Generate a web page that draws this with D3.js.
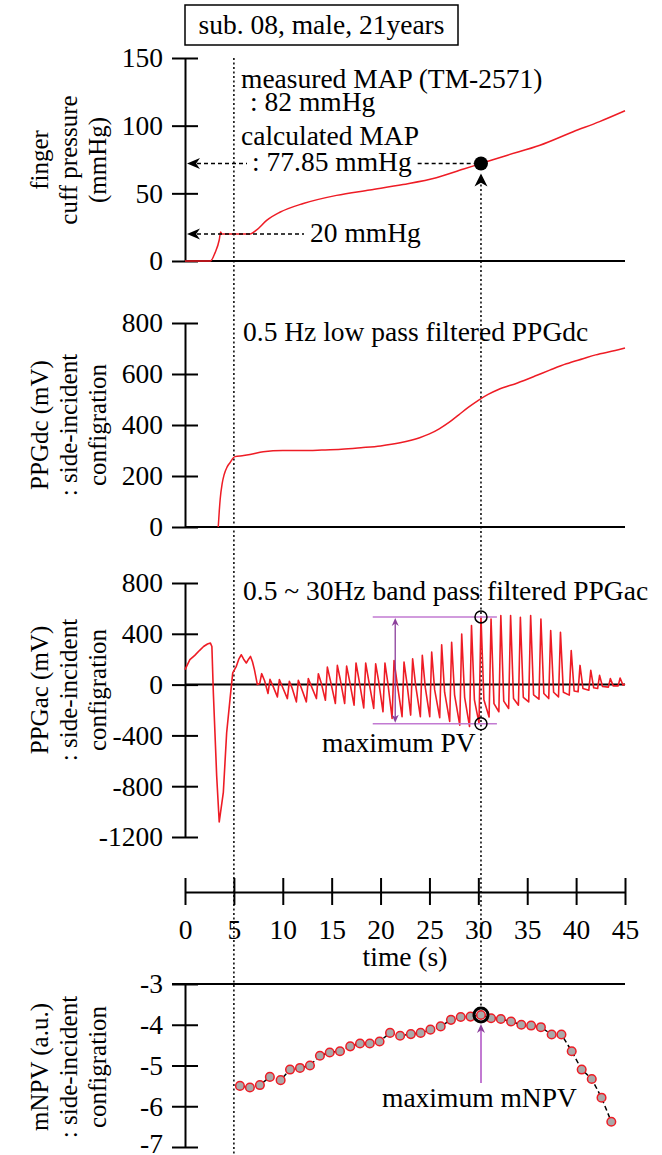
<!DOCTYPE html>
<html><head><meta charset="utf-8">
<script src="https://cdn.jsdelivr.net/npm/d3@7"></script>
<style>body{margin:0;background:#fff} svg text{font-family:"Liberation Serif","Times New Roman",serif;fill:#000}</style>
</head><body><svg id="c" width="662" height="1155"></svg>
<script>
// ---------------- data ----------------
const timeTicks = [0,5,10,15,20,25,30,35,40,45];
const cuffTicks = [0,50,100,150];
const dcTicks = [0,200,400,600,800];
const acTicks = [-1200,-800,-400,0,400,800];
const npvTicks = [-7,-6,-5,-4,-3];

const cuffCurve = [[0,0],[2.6,0],[3.07,6],[3.5,15.5],[3.65,21.5],[3.75,20],[6.65,20],[7.33,23],[8.35,30],[9.7,36],[12.1,42.5],[15.5,48.5],[18.9,52.5],[22.3,56.5],[25.7,61.5],[28.5,68],[30.27,72],[32.9,78],[36.3,85.5],[39.7,95.5],[42.4,103],[45,111]];
const dcCurve = [[3.4,0],[3.5,60],[3.6,110],[3.8,170],[4,205],[4.3,235],[4.6,252],[5.1,276],[6,280],[6.65,284],[8,295],[10,300],[12,300],[14,302],[16,305],[18,311],[20,318],[22,330],[24,350],[25,365],[26,385],[27,410],[28,440],[29,470],[30,497],[31,520],[32,538],[34,565],[36,595],[37.3,615],[39,640],[40.7,660],[42,675],[44,692],[45,702]];

const acLead = [[0,118],[0.5,196],[1,230],[1.5,270],[1.9,300],[2.3,320],[2.6,327],[2.75,300],[2.9,-66],[3.24,-719],[3.5,-1082],[3.92,-849],[4.26,-379],[4.6,-118],[4.88,92],[5.25,144],[5.5,200],[5.76,235],[6.0,200],[6.27,170],[6.5,200],[6.7,222],[6.9,180],[7.1,118],[7.4,0]];
const acPeakT = [7.84,8.69,9.65,10.67,11.59,12.61,13.64,14.56,15.58,16.53,17.49,18.48,19.5,20.45,21.38,22.4,23.28,24.27,25.23,26.25,27.27,28.3,29.3,30.27,31.3,32.3,33.3,34.3,35.35,36.4,37.4,38.4,39.5,40.4,41.5,42.4,43.5,44.5];
const acPeakV = [86,42,39,26,34,47,86,138,151,146,170,170,164,170,190,177,203,230,256,313,334,399,465,535,517,543,543,530,543,517,425,412,269,151,112,73,47,52];
const acTroughV = [8,-70,-97,-110,-136,-136,-110,-123,-149,-149,-162,-183,-188,-214,-266,-253,-240,-253,-253,-260,-290,-320,-330,-305,-255,-214,-188,-162,-136,-115,-110,-97,-83,-57,-44,-31,-20,-10];
const acAfterV = [30,-10,-15,-30,-25,-10,10,35,40,30,40,35,30,10,20,10,0,-20,-40,-60,-80,-100,-120,-120,-150,-130,-110,-100,-80,-70,-60,-60,-50,-30,-25,-15,-10,-5];
const acEnd = [[45,5]];

const npvT = [5.62,6.64,7.66,8.68,9.78,10.74,11.76,12.78,13.8,14.8,15.85,16.9,17.9,18.9,19.9,20.97,22.0,23.1,24.1,25.1,26.15,27.2,28.2,29.2,30.27,31.3,32.3,33.35,34.4,35.4,36.4,37.5,38.5,39.55,40.57,41.6,42.6,43.6];
const npvV = [-5.50,-5.54,-5.48,-5.28,-5.36,-5.10,-5.06,-5.00,-4.76,-4.68,-4.65,-4.53,-4.46,-4.46,-4.41,-4.20,-4.27,-4.23,-4.20,-4.12,-4.04,-3.88,-3.81,-3.80,-3.76,-3.84,-3.86,-3.92,-4.00,-4.02,-4.06,-4.24,-4.24,-4.65,-5.10,-5.33,-5.79,-6.38];

const tMax = 30.27;          // time of max mNPV / max PV
const mapCalc = 72;          // drawn level of calculated MAP dot
const cuff20 = 20;
const pvTop = 533, pvBot = -308;
const pvSpan = [19.2, 31.9];
const pvArrowT = 21.5;

// ---------------- setup ----------------
const FONT = '"Liberation Serif","Times New Roman",serif';
const FS = 27.5;
const RED = '#ee1c25';
const svg = d3.select('#c');
const X = d3.scaleLinear().domain([0,45]).range([185,625]);
const yCuff = d3.scaleLinear().domain([0,150]).range([261,58]);
const yDc = d3.scaleLinear().domain([0,800]).range([527,323]);
const yAc = d3.scaleLinear().domain([-1200,800]).range([837,583]);
const yNpv = d3.scaleLinear().domain([-7,-3]).range([1147,984]);

function yAxis(scale, ticks){
  const g = svg.append('g').attr('transform','translate(185,0)')
    .call(d3.axisLeft(scale).tickValues(ticks).tickFormat(d=>String(d)).tickSize(13).tickSizeOuter(0).tickPadding(9));
  g.attr('font-size',FS).attr('font-family',FONT);
  g.select('.domain').attr('stroke','#000').attr('stroke-width',2);
  g.selectAll('.tick line').attr('x1',-13).attr('x2',13).attr('stroke','#000').attr('stroke-width',2);
  g.selectAll('.tick text').attr('fill','#000');
  return g;
}
function hline(y, x1, x2, w){
  svg.append('line').attr('x1',x1).attr('x2',x2).attr('y1',y).attr('y2',y).attr('stroke','#000').attr('stroke-width',w||2);
}
function title(lines, yc){
  const xs=[39,68,97];
  lines.forEach((s,i)=>{
    svg.append('text').attr('transform',`translate(${xs[i]},${yc}) rotate(-90)`)
      .attr('text-anchor','middle').attr('dominant-baseline','central').attr('font-size',25).text(s);
  });
}
function txt(x,y,s,size,anchor){
  return svg.append('text').attr('x',x).attr('y',y).attr('font-size',size||FS).attr('text-anchor',anchor||'start').text(s);
}
function head(x,y,ang,len,hw,color){
  const p = [[0,0],[-len,-hw],[-len*0.7,0],[-len,hw]];
  svg.append('path').attr('d','M'+p.map(q=>q.join(',')).join('L')+'Z')
    .attr('transform',`translate(${x},${y}) rotate(${ang})`).attr('fill',color||'#000');
}
const lineGen = (ys,curve)=>d3.line().x(d=>X(d[0])).y(d=>ys(d[1])).curve(curve||d3.curveLinear);

// ---------------- title box ----------------
svg.append('rect').attr('x',185).attr('y',5).attr('width',273).attr('height',40).attr('fill','none').attr('stroke','#000').attr('stroke-width',1.5);
txt(321.5,34,'sub. 08, male, 21years',FS,'middle');

// ---------------- dotted vertical guides ----------------
svg.append('line').attr('x1',X(5)).attr('x2',X(5)).attr('y1',58).attr('y2',1155).attr('stroke','#000').attr('stroke-width',1.5).attr('stroke-dasharray','2,2.5');
svg.append('line').attr('x1',X(tMax)).attr('x2',X(tMax)).attr('y1',yCuff(mapCalc)+12).attr('y2',yNpv(npvV[24])-7).attr('stroke','#000').attr('stroke-width',1.5).attr('stroke-dasharray','2,2.5');

// ---------------- panel 1: cuff pressure ----------------
yAxis(yCuff,cuffTicks);
hline(yCuff(0),185,625);
title(['finger','cuff pressure','(mmHg)'],160);
svg.append('path').datum(cuffCurve).attr('d',lineGen(yCuff,d3.curveMonotoneX)).attr('fill','none').attr('stroke',RED).attr('stroke-width',1.5);

txt(241,88,'measured MAP (TM-2571)');
txt(250,111,': 82 mmHg');
txt(241,145,'calculated MAP');
const tCalc = txt(252,yCuff(mapCalc)+7,': 77.85 mmHg');
const tCalcW = tCalc.node().getComputedTextLength();
const dash = '4,3';
svg.append('line').attr('x1',197).attr('x2',247).attr('y1',yCuff(mapCalc)).attr('y2',yCuff(mapCalc)).attr('stroke','#000').attr('stroke-width',1.5).attr('stroke-dasharray',dash);
svg.append('line').attr('x1',252+tCalcW+6).attr('x2',X(tMax)-6).attr('y1',yCuff(mapCalc)).attr('y2',yCuff(mapCalc)).attr('stroke','#000').attr('stroke-width',1.5).attr('stroke-dasharray',dash);
head(187,yCuff(mapCalc),180,13,5.5);
svg.append('circle').attr('cx',X(tMax)).attr('cy',yCuff(mapCalc)).attr('r',7).attr('fill','#000');
head(X(tMax),yCuff(mapCalc)+10,-90,13,6.5);

txt(310,yCuff(cuff20)+8,'20 mmHg');
svg.append('line').attr('x1',197).attr('x2',304).attr('y1',yCuff(cuff20)).attr('y2',yCuff(cuff20)).attr('stroke','#000').attr('stroke-width',1.5).attr('stroke-dasharray',dash);
head(187,yCuff(cuff20),180,13,5.5);

// ---------------- panel 2: PPGdc ----------------
yAxis(yDc,dcTicks);
hline(yDc(0),185,625);
title(['PPGdc (mV)',': side-incident','configration'],425);
svg.append('path').datum(dcCurve).attr('d',lineGen(yDc,d3.curveMonotoneX)).attr('fill','none').attr('stroke',RED).attr('stroke-width',1.5);
txt(243,341,'0.5 Hz low pass filtered PPGdc');

// ---------------- panel 3: PPGac ----------------
yAxis(yAc,acTicks);
title(['PPGac (mV)',': side-incident','configration'],690);
const acPts = acLead.slice();
acPeakT.forEach((t,i)=>{
  acPts.push([t-0.2, acTroughV[i]]);
  acPts.push([t, acPeakV[i]]);
  acPts.push([t+0.3, acAfterV[i]]);
});
acEnd.forEach(p=>acPts.push(p));
hline(yAc(0),185,625);
svg.append('path').datum(acPts).attr('d',lineGen(yAc)).attr('fill','none').attr('stroke',RED).attr('stroke-width',1.6).attr('stroke-linejoin','round');
txt(243,600,'0.5 ~ 30Hz band pass filtered PPGac');
const PUR='#c27ad2', PURD='#8b3f9b';
[pvTop,pvBot].forEach(v=>{
  svg.append('line').attr('x1',X(pvSpan[0])).attr('x2',X(pvSpan[1])).attr('y1',yAc(v)).attr('y2',yAc(v)).attr('stroke',PUR).attr('stroke-width',1.5);
});
svg.append('line').attr('x1',X(pvArrowT)).attr('x2',X(pvArrowT)).attr('y1',yAc(pvTop)+4).attr('y2',yAc(pvBot)-4).attr('stroke',PURD).attr('stroke-width',1.3);
head(X(pvArrowT),yAc(pvTop)+1,-90,8,3.5,PURD);
head(X(pvArrowT),yAc(pvBot)-1,90,8,3.5,PURD);
[pvTop,pvBot].forEach(v=>{
  svg.append('circle').attr('cx',X(tMax)).attr('cy',yAc(v)).attr('r',6).attr('fill','none').attr('stroke','#000').attr('stroke-width',1.5);
});
txt(322,752,'maximum PV');

// ---------------- time axis ----------------
const gt = svg.append('g').attr('transform','translate(0,892)')
  .call(d3.axisBottom(X).tickValues(timeTicks).tickFormat(d=>String(d)).tickSize(13).tickSizeOuter(0));
gt.attr('font-size',FS).attr('font-family',FONT);
gt.select('.domain').attr('stroke','#000').attr('stroke-width',2);
gt.selectAll('.tick line').attr('y1',-14).attr('y2',13).attr('stroke','#000').attr('stroke-width',2);
gt.selectAll('.tick text').attr('y',47).attr('dy',0).attr('fill','#000');
txt(405,966,'time (s)',FS,'middle');

// ---------------- panel 4: mNPV ----------------
const gN = yAxis(yNpv,npvTicks);
gN.selectAll('.tick text').filter(d=>d===-7).attr('dy','0.2em');
hline(yNpv(-3),172,625);
title(['mNPV (a.u.)',': side-incident','configration'],1067);
const npvPts = npvT.map((t,i)=>[t,npvV[i]]);
svg.append('path').datum(npvPts).attr('d',lineGen(yNpv)).attr('fill','none').attr('stroke','#000').attr('stroke-width',1.5).attr('stroke-dasharray','5,3');
svg.selectAll('circle.npv').data(npvPts).enter().append('circle').attr('class','npv')
  .attr('cx',d=>X(d[0])).attr('cy',d=>yNpv(d[1])).attr('r',4.3)
  .attr('fill','#a9a9a9').attr('stroke',RED).attr('stroke-width',1.5);
svg.append('circle').attr('cx',X(tMax)).attr('cy',yNpv(npvV[24])).attr('r',7).attr('fill','none').attr('stroke','#000').attr('stroke-width',3);
svg.append('line').attr('x1',X(tMax)).attr('x2',X(tMax)).attr('y1',1083).attr('y2',yNpv(npvV[24])+14).attr('stroke',PUR).attr('stroke-width',2);
head(X(tMax),yNpv(npvV[24])+9,-90,9,4,PURD);
txt(382,1107,'maximum mNPV');
</script></body></html>
